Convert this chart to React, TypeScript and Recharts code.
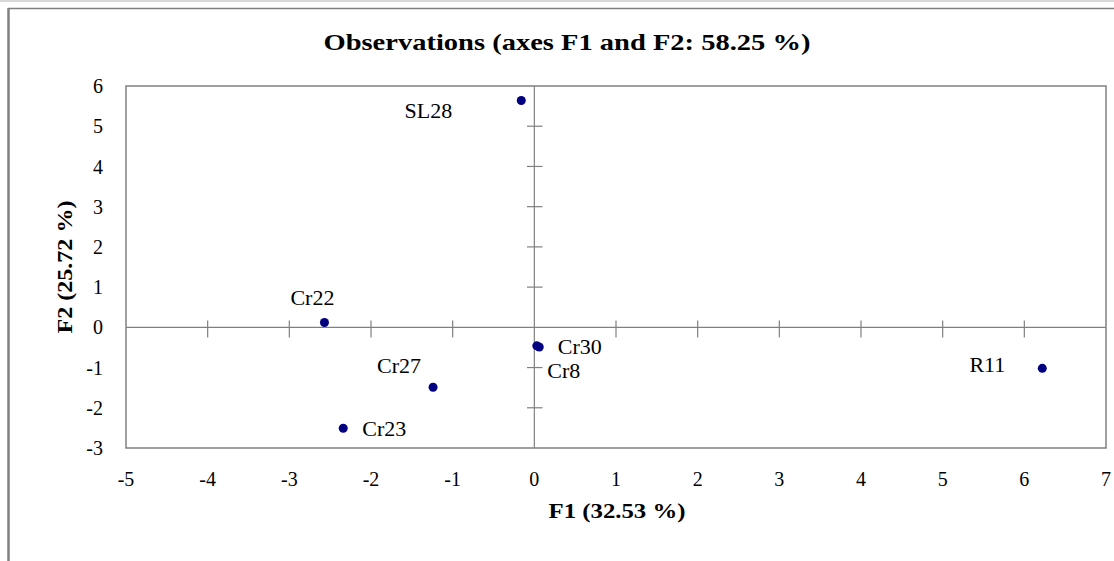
import React from 'react';
import { ScatterChart, Scatter, XAxis, YAxis, ReferenceLine, ReferenceArea } from 'recharts';

const FONT = "'Liberation Serif', 'Times New Roman', Times, serif";

// ---- data ----
const names = ['SL28', 'Cr22', 'Cr27', 'Cr30', 'Cr8', 'R11', 'Cr23'];
const f1 = [-0.16, -2.57, -1.24, 0.03, 0.06, 6.22, -2.34];
const f2 = [5.64, 0.12, -1.49, -0.46, -0.49, -1.02, -2.51];
const xTicks = [-5, -4, -3, -2, -1, 0, 1, 2, 3, 4, 5, 6, 7];
const yTicks = [-3, -2, -1, 0, 1, 2, 3, 4, 5, 6];
const titleText = 'Observations (axes F1 and F2: 58.25 %)';
const xTitle = 'F1 (32.53 %)';
const yTitle = 'F2 (25.72 %)';

// ---- styles (label placement in px relative to each point) ----
const labelPlace: Record<string, { dx: number; dy: number; anchor: 'start' | 'middle' | 'end' }> = {
  SL28: { dx: -69, dy: 18, anchor: 'end' },
  Cr22: { dx: -12, dy: -18, anchor: 'middle' },
  Cr27: { dx: -12, dy: -14, anchor: 'end' },
  Cr30: { dx: 21, dy: 8, anchor: 'start' },
  Cr8: { dx: 8, dy: 31, anchor: 'start' },
  R11: { dx: -37, dy: 4, anchor: 'end' },
  Cr23: { dx: 19, dy: 8, anchor: 'start' },
};

const data = names.map((n, i) => ({ name: n, x: f1[i], y: f2[i] }));

const PointShape = (props: any) => {
  const { cx, cy, payload } = props;
  const p = labelPlace[payload.name] || { dx: 8, dy: 5, anchor: 'start' };
  return (
    <g>
      <circle cx={cx} cy={cy} r={4.5} fill="#000080" />
      <text x={cx + p.dx} y={cy + p.dy} textAnchor={p.anchor} fontFamily={FONT} fontSize={22} fill="#000">
        {payload.name}
      </text>
    </g>
  );
};

const W = 1114;
const H = 561;
const AX = '#808080';

export default function App() {
  const innerX = xTicks.filter((t) => t !== 0 && t !== xTicks[0] && t !== xTicks[xTicks.length - 1]);
  const innerY = yTicks.filter((t) => t !== 0 && t !== yTicks[0] && t !== yTicks[yTicks.length - 1]);
  return (
    <div style={{ position: 'fixed', left: 0, top: 0, width: W, height: H, background: '#fff', overflow: 'hidden' }}>
      <ScatterChart width={W} height={H} margin={{ top: 86, right: 8, bottom: 0, left: 0 }}>
        <XAxis
          type="number"
          dataKey="x"
          domain={[-5, 7]}
          ticks={xTicks}
          interval={0}
          allowDataOverflow
          axisLine={false}
          tickLine={false}
          tickSize={0}
          tickMargin={24}
          height={113}
          tick={{ fill: '#000', fontSize: 20, fontFamily: FONT }}
        />
        <YAxis
          type="number"
          dataKey="y"
          domain={[-3, 6]}
          ticks={yTicks}
          interval={0}
          allowDataOverflow
          axisLine={false}
          tickLine={false}
          tickSize={0}
          tickMargin={23}
          width={126}
          tick={{ fill: '#000', fontSize: 20, fontFamily: FONT }}
        />
        <ReferenceArea x1={-5} x2={7} y1={-3} y2={6} fill="none" stroke={AX} strokeWidth={1.5} fillOpacity={0} />
        <ReferenceLine x={0} stroke={AX} strokeWidth={1.2} />
        <ReferenceLine y={0} stroke={AX} strokeWidth={1.2} />
        {innerX.map((t) => (
          <ReferenceLine key={'xt' + t} segment={[{ x: t, y: -0.25 }, { x: t, y: 0.17 }]} stroke={AX} strokeWidth={1.2} />
        ))}
        {innerY.map((t) => (
          <ReferenceLine key={'yt' + t} segment={[{ x: -0.09, y: t }, { x: 0.1, y: t }]} stroke={AX} strokeWidth={1.2} />
        ))}
        <Scatter data={data} isAnimationActive={false} shape={PointShape} />
      </ScatterChart>
      <svg width={W} height={H} style={{ position: 'absolute', left: 0, top: 0, pointerEvents: 'none' }}>
        <line x1={0} y1={1} x2={W} y2={1} stroke="#d8d8d8" strokeWidth={2} />
        <line x1={8} y1={8.5} x2={W} y2={8.5} stroke={AX} strokeWidth={1.5} />
        <line x1={8.5} y1={8} x2={8.5} y2={H} stroke={AX} strokeWidth={2.5} />
        <text x={567} y={50} textAnchor="middle" fontFamily={FONT} fontWeight="bold" fontSize={24} fill="#000" textLength={487} lengthAdjust="spacingAndGlyphs">
          {titleText}
        </text>
        <text x={617} y={518} textAnchor="middle" fontFamily={FONT} fontWeight="bold" fontSize={22} fill="#000" textLength={137} lengthAdjust="spacingAndGlyphs">
          {xTitle}
        </text>
        <text
          x={0}
          y={0}
          transform="translate(72,267) rotate(-90)"
          textAnchor="middle"
          fontFamily={FONT}
          fontWeight="bold"
          fontSize={22}
          fill="#000"
          textLength={133}
          lengthAdjust="spacingAndGlyphs"
        >
          {yTitle}
        </text>
      </svg>
    </div>
  );
}
